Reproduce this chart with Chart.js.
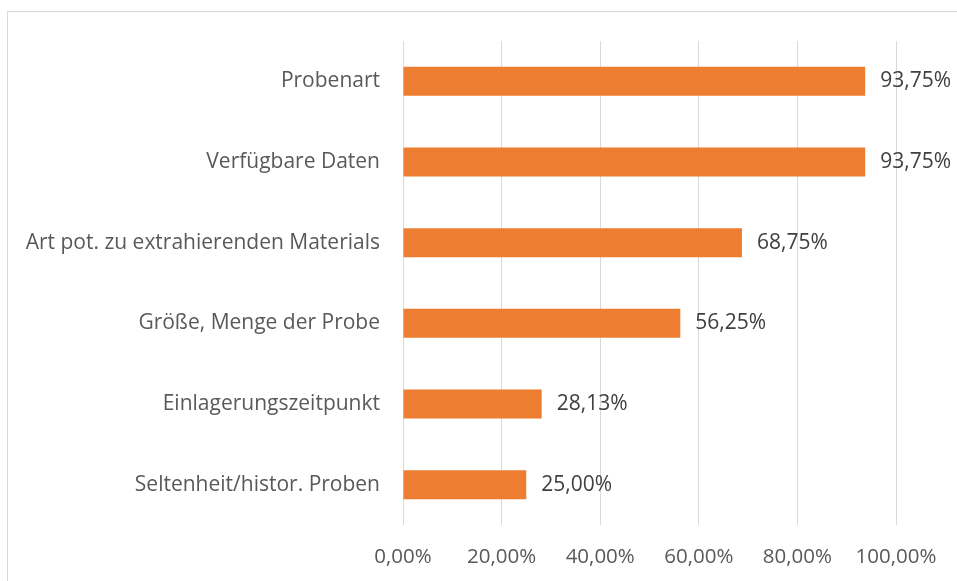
<!DOCTYPE html>
<html>
<head>
<meta charset="utf-8">
<script src="https://cdn.jsdelivr.net/npm/chart.js@4/dist/chart.umd.min.js"></script>
<style>
html,body{margin:0;padding:0;background:#fff;width:957px;height:581px;overflow:hidden;}
#frame{position:absolute;left:7px;top:11px;width:1100px;height:800px;border:1px solid #d9d9d9;box-sizing:border-box;}
#wrap{position:absolute;left:0;top:0;width:957px;height:581px;}
</style>
</head>
<body>
<div id="frame"></div>
<div id="wrap"><canvas id="c" width="957" height="581"></canvas></div>
<script>
const categories = [
  "Probenart",
  "Verfügbare Daten",
  "Art pot. zu extrahierenden Materials",
  "Größe, Menge der Probe",
  "Einlagerungszeitpunkt",
  "Seltenheit/histor. Proben"
];
const values = [93.75, 93.75, 68.75, 56.25, 28.13, 25.00];
const tickValues = [0, 20, 40, 60, 80, 100];

const FONT = "'Open Sans', sans-serif";
const fmt = v => v.toFixed(2).replace('.', ',') + '%';

const valueLabels = {
  id: 'valueLabels',
  afterDatasetsDraw(chart) {
    const ctx = chart.ctx;
    const meta = chart.getDatasetMeta(0);
    ctx.save();
    ctx.font = '21px ' + FONT;
    ctx.fillStyle = '#404040';
    ctx.textAlign = 'left';
    ctx.textBaseline = 'middle';
    meta.data.forEach((bar, i) => {
      ctx.fillText(fmt(values[i]), bar.x + 15, bar.y);
    });
    ctx.restore();
  }
};

new Chart(document.getElementById('c'), {
  type: 'bar',
  data: {
    labels: categories,
    datasets: [{
      data: values,
      backgroundColor: '#ED7D31',
      borderWidth: 0,
      categoryPercentage: 0.4,
      barPercentage: 0.9
    }]
  },
  options: {
    indexAxis: 'y',
    responsive: false,
    animation: false,
    devicePixelRatio: 1,
    layout: { padding: { top: 41, right: 61, bottom: 12, left: 0 } },
    plugins: { legend: { display: false }, tooltip: { enabled: false } },
    scales: {
      x: {
        min: 0, max: 100,
        afterBuildTicks(scale) { scale.ticks = tickValues.map(v => ({ value: v })); },
        afterFit(scale) { scale.height = 44; },
        ticks: {
          callback: v => fmt(v),
          color: '#595959',
          font: { family: FONT, size: 20.5 },
          padding: 20,
          maxRotation: 0
        },
        grid: { color: '#d9d9d9', lineWidth: 1, drawTicks: false },
        border: { display: false }
      },
      y: {
        afterFit(scale) { scale.width = 403; },
        ticks: {
          color: '#595959',
          font: { family: FONT, size: 21 },
          padding: 23
        },
        grid: { display: false, drawTicks: false },
        border: { display: false }
      }
    }
  },
  plugins: [valueLabels]
});
</script>
</body>
</html>
